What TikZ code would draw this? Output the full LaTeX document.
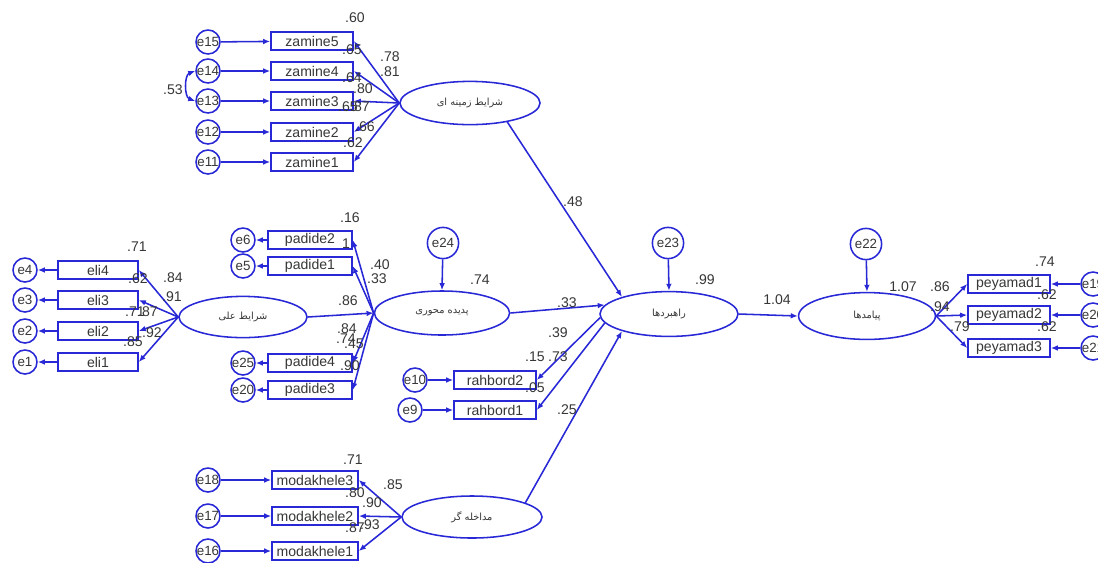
\documentclass[tikz,border=0pt]{standalone}
\usepackage{fontspec}
\setmainfont{Liberation Sans}
\newfontfamily\farsi[Script=Arabic]{DejaVu Sans}
\TeXXeTstate=1
\usetikzlibrary{shapes.geometric,arrows.meta}

\definecolor{amosblue}{RGB}{40,40,215}
\definecolor{labgray}{RGB}{55,55,55}

\tikzstyle{err} = [draw=amosblue,
    circle,
    line width=1.1pt,
    inner sep=-1pt,
    minimum size=0.6cm,
    text=labgray,
    font=\fontsize{9.5}{10}\selectfont]
\tikzstyle{bigerr} = [err,
    minimum size=0.78cm]
\tikzstyle{block} = [rectangle,
    draw=amosblue,
    line width=1.1pt,
    minimum height=0.45cm,
    minimum width=2.05cm,
    inner sep=1pt,
    text=labgray,
    font=\fontsize{10}{11}\selectfont]
\tikzstyle{latent} = [ellipse,
    draw=amosblue,
    line width=1.1pt,
    minimum width=3.45cm,
    minimum height=1.1cm,
    inner sep=0pt,
    text=labgray,
    font=\farsi\fontsize{7}{8}\selectfont]
\tikzstyle{coef} = [inner sep=0pt,
    text=labgray,
    font=\fontsize{10}{11}\selectfont]
\tikzstyle{link} = [draw=amosblue,
    line width=1.1pt,
    ->]

\begin{document}
\begin{tikzpicture}[x=0.025cm, y=-0.025cm, >={Latex[length=5pt,width=4pt]}]
    \path[use as bounding box, fill=white] (0,0) rectangle (1098,562);

    % latent variables
    \node (zamine) [latent, minimum width=3.5cm, minimum height=1.08cm] at (470,103) {\beginR شرایط زمینه ای\endR};
    \node (eli) [latent, minimum width=3.2cm, minimum height=1.03cm] at (243,317) {\beginR شرایط علی\endR};
    \node (padide) [latent, minimum width=3.38cm] at (442,313) {\beginR پدیده محوری\endR};
    \node (rahbord) [latent, minimum height=1.12cm] at (669,314) {\beginR راهبردها\endR};
    \node (peyamad) [latent, minimum width=3.42cm, minimum height=1.17cm] at (867,316) {\beginR پیامدها\endR};
    \node (modakhele) [latent, minimum width=3.5cm, minimum height=1.05cm] at (472,517) {\beginR مداخله گر\endR};

    % zamine
    \node (e15) [err] at (208,42) {e15};
    \node (e14) [err] at (208,71) {e14};
    \node (e13) [err] at (208,101) {e13};
    \node (e12) [err] at (208,132) {e12};
    \node (e11) [err] at (208,162) {e11};
    \node (zamine5) [block] at (312,41) {zamine5};
    \node (zamine4) [block] at (312,71) {zamine4};
    \node (zamine3) [block] at (312,101) {zamine3};
    \node (zamine2) [block] at (312,132) {zamine2};
    \node (zamine1) [block] at (312,162) {zamine1};

    % eli
    \node (e4) [err] at (25,270) {e4};
    \node (e3) [err] at (25,300) {e3};
    \node (e2) [err] at (25,331) {e2};
    \node (e1) [err] at (25,362) {e1};
    \node (eli4) [block, minimum width=2cm] at (98,270) {eli4};
    \node (eli3) [block, minimum width=2cm] at (98,300) {eli3};
    \node (eli2) [block, minimum width=2cm] at (98,331) {eli2};
    \node (eli1) [block, minimum width=2cm] at (98,362) {eli1};

    % padide
    \node (e6) [err] at (243,240) {e6};
    \node (e5) [err] at (243,266) {e5};
    \node (e25) [err] at (243,363) {e25};
    \node (e20) [err] at (243,390) {e20};
    \node (padide2) [block, minimum width=2.1cm] at (310,240) {padide2};
    \node (padide1) [block, minimum width=2.1cm] at (310,266) {padide1};
    \node (padide4) [block, minimum width=2.1cm] at (310,363) {padide4};
    \node (padide3) [block, minimum width=2.1cm] at (310,390) {padide3};
    \node (e24) [bigerr] at (443,243) {e24};

    % rahbord
    \node (e23) [bigerr] at (668,243) {e23};
    \node (e10) [err] at (415,380) {e10};
    \node (e9) [err] at (410,410) {e9};
    \node (rahbord2) [block, minimum width=2.05cm] at (495,380) {rahbord2};
    \node (rahbord1) [block, minimum width=2.05cm] at (495,410) {rahbord1};

    % peyamad
    \node (e22) [bigerr] at (866,244) {e22};
    \node (peyamad1) [block] at (1009,284) {peyamad1};
    \node (peyamad2) [block] at (1009,315) {peyamad2};
    \node (peyamad3) [block] at (1009,348) {peyamad3};
    \node (e19) [err] at (1093,284) {e19};
    \node (e20b) [err] at (1093,315) {e20};
    \node (e21) [err] at (1093,348) {e21};

    % modakhele
    \node (e18) [err] at (208,480) {e18};
    \node (e17) [err] at (208,516) {e17};
    \node (e16) [err] at (208,551) {e16};
    \node (modakhele3) [block, minimum width=2.15cm] at (315,480) {modakhele3};
    \node (modakhele2) [block, minimum width=2.15cm] at (315,516) {modakhele2};
    \node (modakhele1) [block, minimum width=2.15cm] at (315,551) {modakhele1};

    % measurement paths
    \draw [link] (e15) -- (zamine5);
    \draw [link] (e14) -- (zamine4);
    \draw [link] (e13) -- (zamine3);
    \draw [link] (e12) -- (zamine2);
    \draw [link] (e11) -- (zamine1);
    \draw [link] (zamine.west) -- (zamine5.east);
    \draw [link] (zamine.west) -- (zamine4.east);
    \draw [link] (zamine.west) -- (zamine3.east);
    \draw [link] (zamine.west) -- (zamine2.east);
    \draw [link] (zamine.west) -- (zamine1.east);
    \draw [link, <->] (e14.west) to[bend right=70] (e13.west);

    \draw [link] (eli4) -- (e4);
    \draw [link] (eli3) -- (e3);
    \draw [link] (eli2) -- (e2);
    \draw [link] (eli1) -- (e1);
    \draw [link] (eli.west) -- (eli4.east);
    \draw [link] (eli.west) -- (eli3.east);
    \draw [link] (eli.west) -- (eli2.east);
    \draw [link] (eli.west) -- (eli1.east);

    \draw [link] (padide2) -- (e6);
    \draw [link] (padide1) -- (e5);
    \draw [link] (padide4) -- (e25);
    \draw [link] (padide3) -- (e20);
    \draw [link] (padide.west) -- (padide2.east);
    \draw [link] (padide.west) -- (padide1.east);
    \draw [link] (padide.west) -- (padide4.east);
    \draw [link] (padide.west) -- (padide3.east);

    \draw [link] (e10) -- (rahbord2);
    \draw [link] (e9) -- (rahbord1);
    \draw [link] (rahbord.-177) -- (rahbord2.east);
    \draw [link] (rahbord.-172) -- (rahbord1.east);

    \draw [link] (e19) -- (peyamad1);
    \draw [link] (e20b) -- (peyamad2);
    \draw [link] (e21) -- (peyamad3);
    \draw [link] (peyamad.east) -- (peyamad1.west);
    \draw [link] (peyamad.east) -- (peyamad2.west);
    \draw [link] (peyamad.east) -- (peyamad3.west);

    \draw [link] (e18) -- (modakhele3);
    \draw [link] (e17) -- (modakhele2);
    \draw [link] (e16) -- (modakhele1);
    \draw [link] (modakhele.west) -- (modakhele3.east);
    \draw [link] (modakhele.west) -- (modakhele2.east);
    \draw [link] (modakhele.west) -- (modakhele1.east);

    % structural paths
    \draw [link] (eli.east) -- (padide.west);
    \draw [link] (e24) -- (padide.north);
    \draw [link] (e23) -- (rahbord.north);
    \draw [link] (e22) -- (peyamad.north);
    \draw [link] (zamine.-27) -- (rahbord.160);
    \draw [link] (padide.east) -- (rahbord.172);
    \draw [link] (modakhele.15) -- (rahbord.-160);
    \draw [link] (rahbord.east) -- (peyamad.west);

    % estimates
    \node (c1) [coef] at (355,18) {.60};
    \node (c2) [coef] at (352,50) {.65};
    \node (c3) [coef] at (390,57) {.78};
    \node (c4) [coef] at (390,72) {.81};
    \node (c5) [coef] at (352,78) {.64};
    \node (c6) [coef] at (363,89) {.80};
    \node (c7) [coef] at (348,107) {.65};
    \node (c8) [coef] at (360,107) {.87};
    \node (c9) [coef] at (365,127) {.66};
    \node (c10) [coef] at (353,143) {.62};
    \node (c11) [coef] at (173,90) {.53};

    \node (c12) [coef] at (137,247) {.71};
    \node (c13) [coef] at (173,278) {.84};
    \node (c14) [coef] at (138,279) {.62};
    \node (c15) [coef] at (172,297) {.91};
    \node (c16) [coef] at (135,312) {.71};
    \node (c17) [coef] at (148,312) {.87};
    \node (c18) [coef] at (152,333) {.92};
    \node (c19) [coef] at (133,342) {.85};

    \node (c20) [coef] at (350,218) {.16};
    \node (c21) [coef] at (346,244) {1};
    \node (c22) [coef] at (380,265) {.40};
    \node (c23) [coef] at (377,279) {.33};
    \node (c24) [coef] at (348,301) {.86};
    \node (c25) [coef] at (347,329) {.84};
    \node (c26) [coef] at (346,339) {.74};
    \node (c27) [coef] at (354,344) {.45};
    \node (c28) [coef] at (350,366) {.90};
    \node (c29) [coef] at (480,280) {.74};

    \node (c30) [coef] at (573,202) {.48};
    \node (c31) [coef] at (567,303) {.33};
    \node (c32) [coef] at (705,280) {.99};
    \node (c33) [coef] at (558,333) {.39};
    \node (c34) [coef] at (535,357) {.15};
    \node (c35) [coef] at (558,357) {.73};
    \node (c36) [coef] at (535,388) {.05};
    \node (c37) [coef] at (567,410) {.25};
    \node (c38) [coef] at (777,300) {1.04};

    \node (c39) [coef] at (903,287) {1.07};
    \node (c40) [coef] at (940,287) {.86};
    \node (c41) [coef] at (940,307) {.94};
    \node (c42) [coef] at (1045,262) {.74};
    \node (c43) [coef] at (1047,295) {.62};
    \node (c44) [coef] at (960,327) {.79};
    \node (c45) [coef] at (1047,327) {.62};

    \node (c46) [coef] at (353,460) {.71};
    \node (c47) [coef] at (393,485) {.85};
    \node (c48) [coef] at (355,493) {.80};
    \node (c49) [coef] at (372,503) {.90};
    \node (c50) [coef] at (355,528) {.87};
    \node (c51) [coef] at (370,525) {.93};
\end{tikzpicture}
\end{document}
